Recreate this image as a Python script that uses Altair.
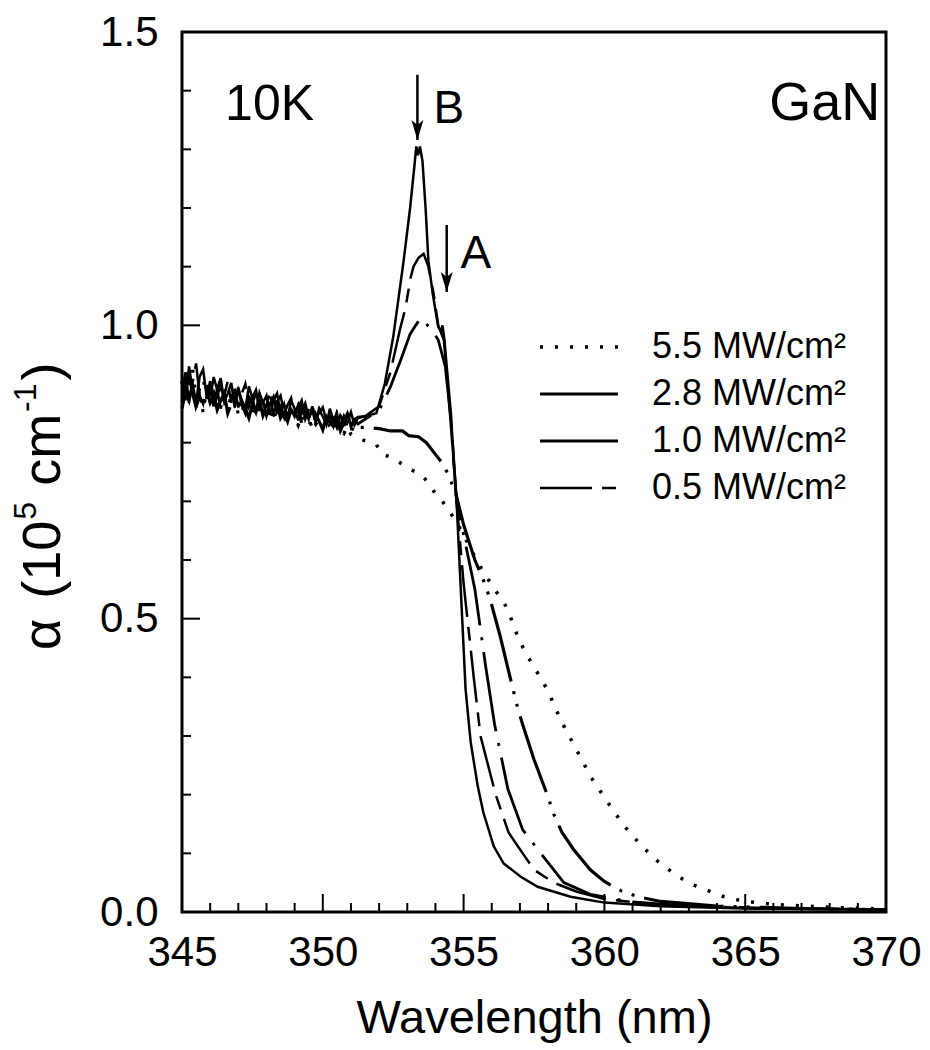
import altair as alt
import pandas as pd

FONT = "Liberation Sans"

# ---------------- data ----------------
NOISE_WL = [345.000, 345.125, 345.250, 345.375, 345.500, 345.625, 345.750, 345.875,
            346.000, 346.125, 346.250, 346.375, 346.500, 346.625, 346.750, 346.875,
            347.000, 347.125, 347.250, 347.375, 347.500, 347.625, 347.750, 347.875,
            348.000, 348.125, 348.250, 348.375, 348.500, 348.625, 348.750, 348.875,
            349.000, 349.125, 349.250, 349.375, 349.500, 349.625, 349.750, 349.875,
            350.000, 350.125, 350.250, 350.375, 350.500, 350.625, 350.750, 350.875,
            351.000, 351.125, 351.250]

# unexcited reference spectrum (solid, strongest exciton peak, no legend entry)
wl_ref = NOISE_WL + [351.5, 351.9, 352.2, 352.5, 352.87, 353.1, 353.25, 353.32, 353.38, 353.45,
                     353.54, 353.65, 353.75, 353.9, 354.1, 354.2, 354.25, 354.32, 354.4, 354.55,
                     354.65, 354.75, 354.9, 355.07, 355.25, 355.5, 355.7, 356.07, 356.42, 357.03,
                     357.63, 358.8, 360.0, 362.0, 365.0, 370.0]
a_ref = [0.915, 0.872, 0.930, 0.890, 0.868, 0.912, 0.925, 0.878, 0.905, 0.866,
         0.892, 0.910, 0.870, 0.884, 0.902, 0.860, 0.890, 0.872, 0.858, 0.896,
         0.876, 0.852, 0.885, 0.868, 0.880, 0.848, 0.872, 0.884, 0.850, 0.866,
         0.842, 0.872, 0.858, 0.838, 0.866, 0.852, 0.840, 0.862, 0.836, 0.855,
         0.845, 0.830, 0.858, 0.838, 0.850, 0.828, 0.846, 0.834, 0.852, 0.830, 0.842,
         0.845, 0.850, 0.900, 0.980, 1.110, 1.200, 1.270, 1.305, 1.290, 1.305,
         1.280, 1.200, 1.110, 1.055, 0.997, 0.990, 1.000, 0.975, 0.930, 0.850,
         0.770, 0.700, 0.550, 0.380, 0.290, 0.215, 0.170, 0.112, 0.083, 0.060,
         0.043, 0.026, 0.016, 0.010, 0.006, 0.004]

wl_05 = NOISE_WL + [351.5, 352.0, 352.4, 352.76, 352.94, 353.11, 353.22, 353.4, 353.58, 353.75,
                    353.93, 354.1, 354.3, 354.5, 354.75, 355.0, 355.36, 355.6, 356.14, 356.6,
                    357.1, 357.5, 358.2, 359.0, 360.0, 362.0, 365.0, 370.0]
a_05 = [0.885, 0.920, 0.868, 0.902, 0.935, 0.880, 0.866, 0.898, 0.875, 0.912,
        0.890, 0.858, 0.880, 0.905, 0.868, 0.892, 0.860, 0.884, 0.900, 0.862,
        0.878, 0.890, 0.854, 0.872, 0.862, 0.888, 0.846, 0.870, 0.880, 0.852,
        0.864, 0.876, 0.846, 0.860, 0.872, 0.840, 0.856, 0.866, 0.834, 0.850,
        0.860, 0.838, 0.845, 0.828, 0.852, 0.840, 0.832, 0.848, 0.826, 0.840, 0.844,
        0.845, 0.862, 0.920, 0.997, 1.030, 1.080, 1.100, 1.115, 1.122, 1.100,
        1.055, 1.000, 0.975, 0.860, 0.700, 0.560, 0.400, 0.300, 0.200, 0.135,
        0.100, 0.072, 0.050, 0.035, 0.022, 0.012, 0.007, 0.004]

wl_10 = NOISE_WL + [351.5, 352.0, 352.4, 352.8, 353.1, 353.3, 353.47, 353.65, 353.9, 354.1,
                    354.35, 354.55, 354.75, 355.1, 355.4, 355.78, 356.1, 356.57, 357.1, 357.74,
                    358.56, 359.5, 361.0, 363.0, 366.0, 370.0]
a_10 = [0.870, 0.898, 0.915, 0.882, 0.860, 0.892, 0.908, 0.875, 0.895, 0.862,
        0.880, 0.900, 0.872, 0.856, 0.885, 0.870, 0.894, 0.864, 0.850, 0.878,
        0.868, 0.884, 0.856, 0.872, 0.846, 0.866, 0.878, 0.852, 0.862, 0.844,
        0.870, 0.856, 0.840, 0.862, 0.850, 0.866, 0.842, 0.855, 0.835, 0.858,
        0.848, 0.834, 0.852, 0.840, 0.826, 0.846, 0.836, 0.850, 0.830, 0.838, 0.832,
        0.840, 0.855, 0.895, 0.945, 0.985, 1.000, 1.012, 1.004, 0.990, 0.975,
        0.930, 0.840, 0.700, 0.620, 0.550, 0.420, 0.320, 0.210, 0.140, 0.100,
        0.050, 0.030, 0.017, 0.010, 0.006, 0.004]

wl_28 = NOISE_WL + [351.5, 352.0, 352.4, 352.83, 353.05, 353.4, 353.68, 354.0, 354.25, 354.43,
                    354.72, 355.0, 355.4, 355.75, 355.96, 356.3, 356.6, 356.78, 356.92, 357.1,
                    357.5, 358.0, 358.2, 358.49, 358.9, 359.5, 360.0, 360.6, 361.2, 362.0,
                    364.0, 367.0, 370.0]
a_28 = [0.858, 0.888, 0.872, 0.900, 0.862, 0.878, 0.852, 0.890, 0.868, 0.880,
        0.856, 0.872, 0.884, 0.850, 0.866, 0.876, 0.848, 0.870, 0.858, 0.842,
        0.866, 0.852, 0.874, 0.846, 0.860, 0.838, 0.858, 0.868, 0.842, 0.852,
        0.836, 0.856, 0.846, 0.862, 0.832, 0.850, 0.840, 0.826, 0.848, 0.836,
        0.822, 0.844, 0.834, 0.828, 0.840, 0.820, 0.834, 0.826, 0.818, 0.830, 0.826,
        0.826, 0.824, 0.820, 0.820, 0.812, 0.810, 0.800, 0.780, 0.765, 0.748,
        0.714, 0.660, 0.600, 0.560, 0.530, 0.470, 0.410, 0.375, 0.348, 0.319,
        0.260, 0.196, 0.167, 0.136, 0.107, 0.072, 0.052, 0.036, 0.026, 0.018,
        0.010, 0.006, 0.004]

wl_55 = NOISE_WL[:-2] + [351.2, 351.9, 352.1, 352.44, 352.65, 353.0, 353.3, 353.54, 353.79, 354.04,
                         354.25, 354.54, 354.9, 355.4, 355.6, 356.07, 356.46, 356.74, 356.96, 357.31,
                         357.67, 358.0, 358.27, 358.56, 358.88, 359.2, 359.52, 359.95, 360.37, 360.77,
                         361.26, 361.8, 362.4, 363.0, 363.65, 364.25, 365.0, 366.0, 368.0, 370.0]
a_55 = [0.905, 0.865, 0.895, 0.925, 0.876, 0.888, 0.858, 0.900, 0.870, 0.884,
        0.862, 0.894, 0.872, 0.852, 0.886, 0.866, 0.878, 0.850, 0.872, 0.860,
        0.846, 0.870, 0.856, 0.864, 0.840, 0.860, 0.850, 0.838, 0.858, 0.846,
        0.834, 0.852, 0.842, 0.830, 0.848, 0.836, 0.826, 0.844, 0.832, 0.840,
        0.824, 0.838, 0.828, 0.820, 0.834, 0.822, 0.816, 0.828, 0.814,
        0.808, 0.797, 0.780, 0.775, 0.769, 0.757, 0.750, 0.743, 0.730, 0.709,
        0.700, 0.680, 0.652, 0.605, 0.588, 0.552, 0.525, 0.494, 0.464, 0.433,
        0.404, 0.377, 0.346, 0.317, 0.288, 0.259, 0.230, 0.199, 0.169, 0.143,
        0.116, 0.090, 0.068, 0.049, 0.037, 0.026, 0.018, 0.013, 0.008, 0.005]

SERIES = ["5.5 MW/cm\u00b2", "2.8 MW/cm\u00b2", "1.0 MW/cm\u00b2", "0.5 MW/cm\u00b2"]
DASHES = [[3, 12], [80, 10, 3, 10, 3, 10], [80, 12, 3, 12], [52, 10, 14, 10]]
WIDTHS = [3.5, 2.5, 2.5, 2.5]

X_LABELS = [345, 350, 355, 360, 365, 370]
X_MAJOR = [350, 355, 360, 365]
X_MINOR = [346, 347, 348, 349, 351, 352, 353, 354, 356, 357, 358, 359,
           361, 362, 363, 364, 366, 367, 368, 369]
Y_LABELS = [0.0, 0.5, 1.0, 1.5]
Y_MAJOR = [0.5, 1.0]
Y_MINOR = [0.1, 0.2, 0.3, 0.4, 0.6, 0.7, 0.8, 0.9, 1.1, 1.2, 1.3, 1.4]

TEXT_BIG = ["10K"]
TEXT_BIG_X = [346.53]
TEXT_BIG_Y = [1.35]
TEXT_GAN = ["GaN"]
TEXT_GAN_X = [369.8]
TEXT_GAN_Y = [1.35]
TEXT_AB = ["B", "A"]
TEXT_AB_X = [353.93, 354.89]
TEXT_AB_Y = [1.345, 1.098]
ARROW_X = [353.36, 354.4]
ARROW_TOP = [1.427, 1.171]
ARROW_TIP = [1.316, 1.057]

# y-axis title pieces (normal text and superscripts), read bottom-to-top
YT_TEXT = ["\u03b1", "(10", "5", "cm", "-1", ")"]
YT_SIZE = [54, 54, 32, 54, 32, 54]
YT_SUPER = [False, False, True, False, True, False]
YT_EM = [0.58, 1.445, 0.556, 1.333, 0.889, 0.333]
YT_GAP_AFTER = [20, 1, 16, 2, 3, 0]

# ---------------- tables ----------------
df_lines = pd.concat([
    pd.DataFrame({"wl": wl_55, "a": a_55, "series": SERIES[0]}),
    pd.DataFrame({"wl": wl_28, "a": a_28, "series": SERIES[1]}),
    pd.DataFrame({"wl": wl_10, "a": a_10, "series": SERIES[2]}),
    pd.DataFrame({"wl": wl_05, "a": a_05, "series": SERIES[3]}),
], ignore_index=True)
df_ref = pd.DataFrame({"wl": wl_ref, "a": a_ref})

PLOT_W, PLOT_H = 704, 880

# y title layout (pixels relative to the plot's top-left corner)
MAIN_BASE_X, SUP_BASE_X = -122, -146
pos, ypos = 618.0, []
for em, size, gap in zip(YT_EM, YT_SIZE, YT_GAP_AFTER):
    ypos.append(pos)
    pos -= em * size + gap
df_ytitle = pd.DataFrame({
    "t": YT_TEXT, "size": YT_SIZE, "py": ypos,
    "px": [SUP_BASE_X if s else MAIN_BASE_X for s in YT_SUPER],
})

xs = alt.Scale(domain=[345, 370], nice=False, zero=False)
ys = alt.Scale(domain=[0, 1.5], nice=False, zero=False)

x_axis = alt.Axis(values=X_LABELS, format="d", title="Wavelength (nm)", ticks=False,
                  domain=False, grid=False, labelFont=FONT, labelFontSize=42,
                  labelPadding=20, labelColor="black", labelFlush=False, labelOverlap=False,
                  titleFont=FONT, titleFontSize=47, titleFontWeight="normal",
                  titleColor="black", titlePadding=22)
y_axis = alt.Axis(values=Y_LABELS, format=".1f", title=None,
                  ticks=False, domain=False, grid=False, labelFont=FONT, labelFontSize=42,
                  labelPadding=24, labelColor="black", labelFlush=False, labelOverlap=False)


def X(field):
    return alt.X(field, scale=xs, axis=x_axis)


def Y(field):
    return alt.Y(field, scale=ys, axis=y_axis)


lines = alt.Chart(df_lines).mark_line(color="black").encode(
    x=X("wl:Q"),
    y=Y("a:Q"),
    strokeDash=alt.StrokeDash(
        "series:N", scale=alt.Scale(domain=SERIES, range=DASHES),
        legend=alt.Legend(title=None, orient="none", legendX=379, legendY=297,
                          symbolType="M-3.9,0L3.9,0", symbolSize=400,
                          symbolStrokeWidth=2.5, symbolStrokeColor="black",
                          labelFont=FONT, labelFontSize=36, labelColor="black",
                          labelOffset=55, rowPadding=11, padding=0, labelLimit=400)),
    strokeWidth=alt.StrokeWidth("series:N", scale=alt.Scale(domain=SERIES, range=WIDTHS),
                                legend=None),
)

ref = alt.Chart(df_ref).mark_line(color="black", strokeWidth=2.5).encode(
    x=X("wl:Q"),
    y=Y("a:Q"),
)


def xticks(vals, length):
    return alt.Chart(pd.DataFrame({"t": vals})).mark_rule(color="black", strokeWidth=2).encode(
        x=X("t:Q"),
        y=alt.value(PLOT_H), y2=alt.value(PLOT_H - length))


def yticks(vals, length):
    return alt.Chart(pd.DataFrame({"t": vals})).mark_rule(color="black", strokeWidth=2).encode(
        y=Y("t:Q"),
        x=alt.value(0), x2=alt.value(length))


def texts(xv, yv, tv, size, align):
    return alt.Chart(pd.DataFrame({"x": xv, "y": yv, "t": tv})).mark_text(
        align=align, baseline="alphabetic", font=FONT, fontSize=size, color="black").encode(
        x=X("x:Q"),
        y=Y("y:Q"),
        text="t:N")


df_arrow = pd.DataFrame({"x": ARROW_X, "top": ARROW_TOP, "tip": ARROW_TIP})
arrow_shaft = alt.Chart(df_arrow).mark_rule(color="black", strokeWidth=2.5).encode(
    x=X("x:Q"),
    y=Y("top:Q"),
    y2="tip:Q")
arrow_head = alt.Chart(df_arrow).mark_point(
    shape="M0,0L-0.6,-2L0,-1.5L0.6,-2Z", size=400, filled=True, color="black",
    opacity=1, strokeWidth=0).encode(
    x=X("x:Q"),
    y=Y("tip:Q"))

ytitle = alt.Chart(df_ytitle).mark_text(
    align="left", baseline="alphabetic", angle=270, font=FONT, color="black").encode(
    x=alt.X("px:Q", scale=None, axis=None),
    y=alt.Y("py:Q", scale=None, axis=None),
    size=alt.Size("size:Q", scale=None, legend=None),
    text="t:N")

chart = alt.layer(
    lines, ref,
    xticks(X_MAJOR, 18), xticks(X_MINOR, 9),
    yticks(Y_MAJOR, 18), yticks(Y_MINOR, 9),
    texts(TEXT_BIG_X, TEXT_BIG_Y, TEXT_BIG, 50, "left"),
    texts(TEXT_GAN_X, TEXT_GAN_Y, TEXT_GAN, 54, "right"),
    texts(TEXT_AB_X, TEXT_AB_Y, TEXT_AB, 46, "left"),
    arrow_shaft, arrow_head, ytitle,
).properties(
    width=PLOT_W, height=PLOT_H,
    autosize=alt.AutoSizeParams(type="none"),
    padding={"left": 182, "top": 32, "right": 44, "bottom": 138},
    background="white",
).configure_view(stroke="black", strokeWidth=3)

chart.save("out.html", embed_options={"renderer": "svg", "actions": False})
